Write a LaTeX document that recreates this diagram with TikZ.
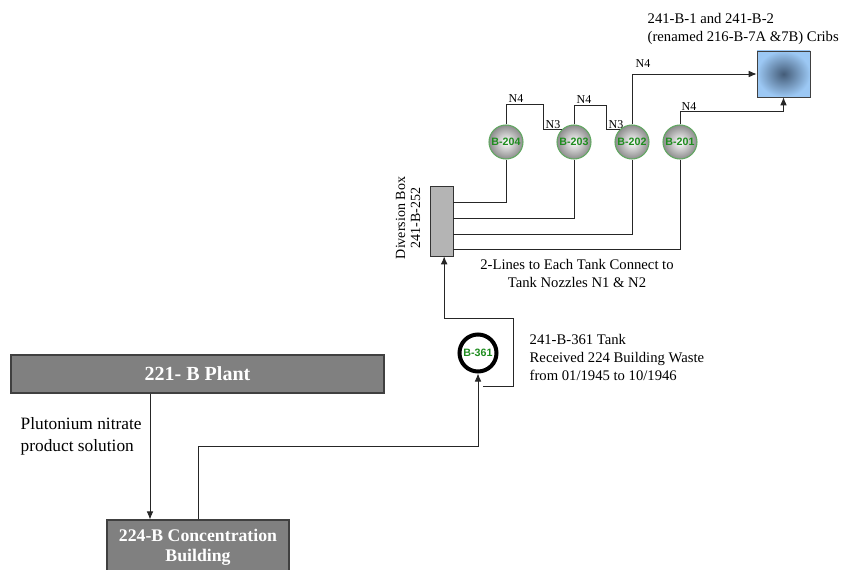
\documentclass[tikz,border=0pt]{standalone}
\usepackage{fontspec}
\setmainfont{Liberation Serif}
\setsansfont{Liberation Sans}
\usetikzlibrary{arrows.meta, calc}
\definecolor{colorTank}{HTML}{62A862}
\definecolor{textTank}{HTML}{1E8C1E}
\definecolor{grayPlant}{HTML}{808080}
\definecolor{grayBox}{HTML}{B4B4B4}
\definecolor{blueLight}{HTML}{9CC8F4}
\definecolor{blueDark}{HTML}{445C78}

\begin{document}
\begin{tikzpicture}[
        x=0.75pt, y=-0.75pt,
        bldg/.style={draw=black!75, fill=grayPlant, line width=0.8pt, text=white, align=center},
        tank/.style={circle, draw=colorTank, line width=0.8pt, inner color=white, outer color=black!45,
            minimum size=25.5pt, inner sep=0pt, font=\sffamily\bfseries\fontsize{8}{9}\selectfont, text=textTank},
        lbl/.style={font=\fontsize{11}{13.5}\selectfont, align=left},
        nz/.style={font=\fontsize{9}{10}\selectfont, inner sep=1pt, anchor=south west},
        pipe/.style={draw=black!85, line width=0.7pt},
        rel/.style={pipe, -{Latex[length=6pt, width=5pt]}}
    ]
    \useasboundingbox (0,0) rectangle (846,570);
    % buildings
    \node[bldg, minimum width=279.75pt, minimum height=28.5pt, font=\bfseries\fontsize{15}{18}\selectfont] (plant) at (197.5,374) {221- B Plant};
    \node[bldg, minimum width=136.5pt, minimum height=40.5pt, font=\bfseries\fontsize{13.3}{15}\selectfont] (bldg) at (198,547) {224-B Concentration\\Building};
    \node[lbl, anchor=west, font=\fontsize{13}{16.5}\selectfont] (pu) at (16,436) {Plutonium nitrate\\product solution};
    % tanks
    \node[tank] (t204) at (506,142) {B-204};
    \node[tank] (t203) at (574,142) {B-203};
    \node[tank] (t202) at (632,142) {B-202};
    \node[tank] (t201) at (680,142) {B-201};
    \node[circle, draw=black, line width=3pt, fill=white, minimum size=27.75pt, inner sep=0pt,
        font=\sffamily\bfseries\fontsize{8}{9}\selectfont, text=textTank] (t361) at (478,353) {B-361};
    \node[lbl, anchor=west] (t361l) at (525,357) {241-B-361 Tank\\Received 224 Building Waste\\from 01/1945 to 10/1946};
    % diversion box and cribs
    \node[draw=black!80, fill=grayBox, minimum width=17.25pt, minimum height=52.5pt, inner sep=0pt] (dbox) at (441.5,221) {};
    \node[rotate=90, font=\fontsize{10.5}{11.25}\selectfont, align=center] (dlbl) at (408,218) {Diversion Box\\241-B-252};
    \node[lbl, align=center] (note) at (577,273) {2-Lines to Each Tank Connect to\\Tank Nozzles N1 \& N2};
    \node[draw=black!75, inner color=blueDark, outer color=blueLight, minimum width=39.75pt, minimum height=34.5pt] (crib) at (783.5,74) {};
    \node[lbl, anchor=west] (cribl) at (643,29) {241-B-1 and 241-B-2\\(renamed 216-B-7A \&7B) Cribs};

    \draw[rel] (150,0 |- plant.south) -- (150,0 |- bldg.north);
    \draw[rel] (bldg.north) -- ++(0,-73) -| (t361.south);
    \coordinate (ret) at (483,386);
    \draw[rel] (ret) -| (513,318) -| ([xshift=2pt]dbox.south);
    \foreach \t/\f in {t204/0.76, t203/0.54, t202/0.31, t201/0.1}
        \draw[pipe] ($(dbox.south east)!\f!(dbox.north east)$) -| (\t.south);
    \draw[pipe] (t204.north) |- (543,104) |- (t203.135);
    \draw[pipe] (t203.north) |- (606,105) |- (t202.135);
    \draw[rel] (t202.north) |- (crib.west);
    \draw[rel] (t201.north) -- ++(0,-13) -| (crib.south);
    \node[nz] (n4a) at (507,104.5) {N4};
    \node[nz] (n3a) at (544,130) {N3};
    \node[nz] (n4b) at (575,105.5) {N4};
    \node[nz] (n3b) at (607,130) {N3};
    \node[nz] (n4c) at (634,69) {N4};
    \node[nz] (n4d) at (680,112) {N4};
\end{tikzpicture}
\end{document}
